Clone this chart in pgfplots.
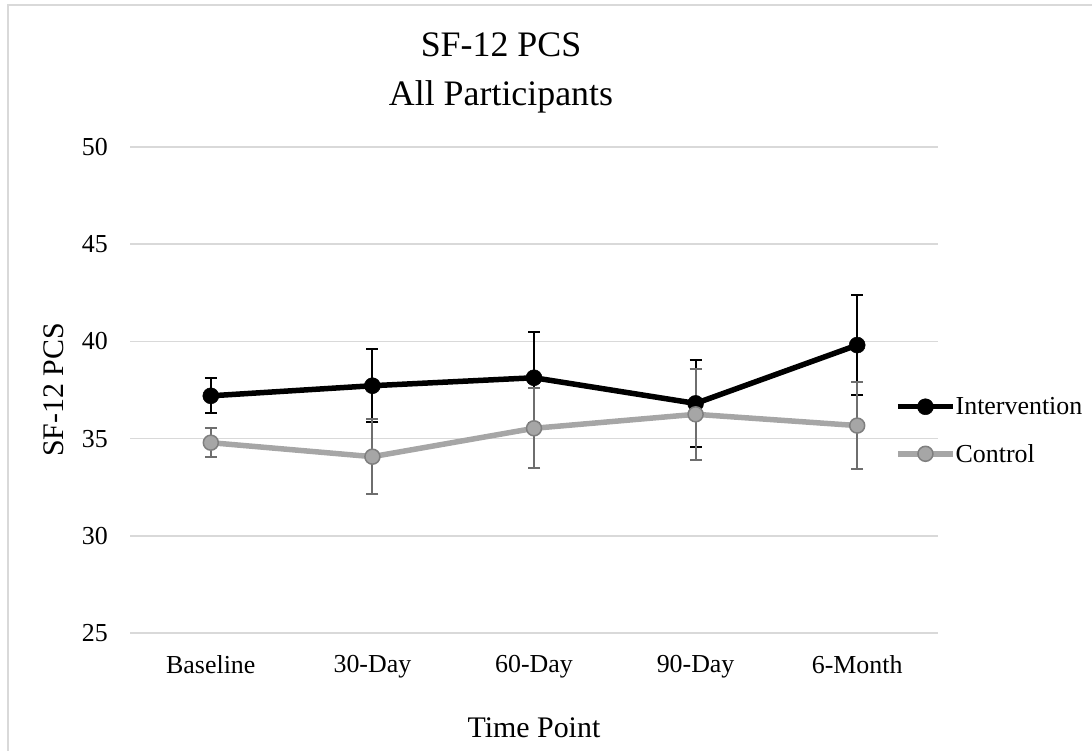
\documentclass[border=0pt]{standalone}
\usepackage{pgfplots}
\pgfplotsset{compat=1.18}
\usepackage{fontspec}
\setmainfont{Liberation Serif}
\definecolor{gridc}{RGB}{217,217,217}
\definecolor{ctrl}{RGB}{166,166,166}
\definecolor{ctrldk}{RGB}{127,127,127}
\definecolor{ctrlerr}{RGB}{110,110,110}
\begin{document}
\begin{tikzpicture}
\path[use as bounding box] (0,0) rectangle (1092bp,751bp);
\draw[gridc, line width=1.5bp] (8bp,0) -- (8bp,746bp) -- (1092bp,746bp);
\begin{axis}[
  at={(130bp,118bp)}, anchor=south west,
  scale only axis, width=808bp, height=486bp,
  xmin=-0.5, xmax=4.5, ymin=25, ymax=50,
  xtick={0,1,2,3,4},
  xticklabels={Baseline,30-Day,60-Day,90-Day,6-Month},
  ytick={25,30,35,40,45,50},
  axis line style={draw=none},
  major tick length=0pt,
  ymajorgrids, major grid style={gridc, line width=1.5bp},
  /pgf/number format/assume math mode=true,
  tick label style={font=\fontsize{26}{31}\selectfont, text=black},
  yticklabel style={anchor=east, inner sep=0pt, xshift=-22bp},
  xticklabel style={anchor=north, inner sep=0pt, yshift=-22bp},
  title={SF-12 PCS},
  title style={font=\fontsize{36}{46}\selectfont, at={(axis description cs:0.4592,1.1730)}, anchor=base, inner sep=0pt},
  xlabel={Time Point},
  xlabel style={font=\fontsize{30}{36}\selectfont, at={(axis description cs:0.5,-0.2160)}, anchor=base, inner sep=0pt},
  ylabel={SF-12 PCS},
  ylabel style={font=\fontsize{30}{36}\selectfont, at={(axis description cs:-0.0829,0.5)}, anchor=base, rotate=0, inner sep=0pt},
  legend style={draw=none, fill=none, at={(axis description cs:0.9468,0.4167)}, anchor=west, inner sep=0pt, row sep=28bp,
    font=\fontsize{26}{31}\selectfont, nodes={inner sep=0pt}},
  legend cell align=left,
  legend image code/.code={\draw[#1, mark repeat=2, mark phase=2] plot coordinates {(0bp,0bp) (27.5bp,0bp) (55bp,0bp)};},
  clip=false,
]
\addplot[black, line width=5.5bp, mark=*, mark size=8bp, mark options={solid, fill=black, draw=black, line width=0.5bp},
  error bars/.cd, y dir=both, y explicit,
  error bar style={line width=2bp, black},
  error mark options={rotate=90, mark size=6bp, line width=2bp, black}]
  coordinates {
  (0,37.20) +- (0,0.90)
  (1,37.72) +- (0,1.87)
  (2,38.13) +- (0,2.35)
  (3,36.81) +- (0,2.25)
  (4,39.81) +- (0,2.58)
  };
\addlegendentry{Intervention}
\addplot[ctrl, line width=5.5bp, mark=*, mark size=7.5bp, mark options={solid, fill=ctrl, draw=ctrldk, line width=1.5bp},
  error bars/.cd, y dir=both, y explicit,
  error bar style={line width=2bp, ctrlerr},
  error mark options={rotate=90, mark size=6bp, line width=2bp, ctrlerr}]
  coordinates {
  (0,34.79) +- (0,0.74)
  (1,34.07) +- (0,1.94)
  (2,35.53) +- (0,2.06)
  (3,36.25) +- (0,2.35)
  (4,35.67) +- (0,2.25)
  };
\addlegendentry{Control}
\node[anchor=base, inner sep=0pt, font=\fontsize{36}{46}\selectfont] at (axis description cs:0.4592,1.0864) {All Participants};
\end{axis}
\end{tikzpicture}
\end{document}
